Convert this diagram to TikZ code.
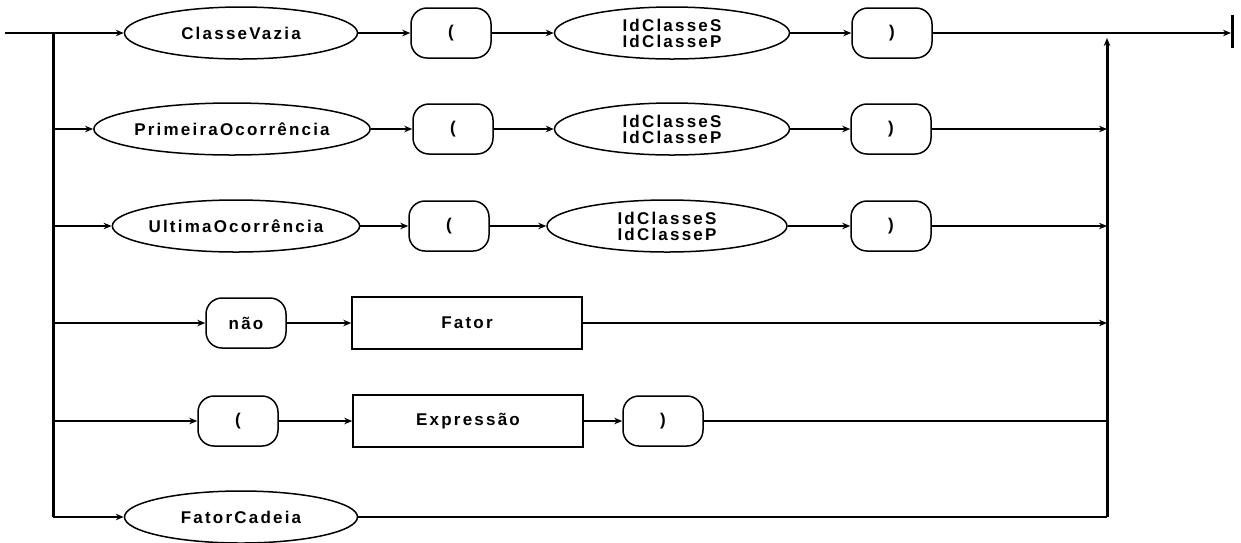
\documentclass[tikz,border=0pt]{standalone}
\usepackage{fontspec}
\newfontfamily\sdfont[LetterSpace=13]{Liberation Sans}
\usetikzlibrary{arrows.meta,positioning,calc,shapes.geometric}

\begin{document}
\begin{tikzpicture}[x=1pt,y=-1pt,
  every node/.style={font=\sdfont\bfseries\fontsize{17}{16}\selectfont,align=center,inner sep=0pt},
  term/.style={draw,rounded corners=16pt,minimum width=80pt,minimum height=50pt,line width=1.5pt},
  nterm/.style={draw,ellipse,minimum height=52pt,line width=1.5pt},
  prod/.style={draw,rectangle,minimum width=230pt,minimum height=52pt,line width=1.5pt},
  bus/.style={line width=3pt},
  arr/.style={-{Stealth[length=8pt,width=6.5pt]}},
  every path/.style={line width=2pt}]
\useasboundingbox (0,0) rectangle (1241,542);
% bus points
\coordinate (start) at (5,33);
\coordinate (l1) at (53,33);
\coordinate (l2) at (53,129);
\coordinate (l3) at (53,226);
\coordinate (l4) at (53,323);
\coordinate (l5) at (53,421);
\coordinate (l6) at (53,517);
\coordinate (r1) at (1107,38);
\coordinate (r2) at (1107,129);
\coordinate (r3) at (1107,226);
\coordinate (r4) at (1107,323);
\coordinate (r5) at (1107,421);
\coordinate (r6) at (1107,517);
\coordinate (fin) at (1231,33);
\coordinate (bt) at (1232,15);
\coordinate (bb) at (1232,48);
% row 1
\node[nterm,minimum width=233pt] (cv) at (241,33) {ClasseVazia};
\node[term] (lpa) at (451,33) {(};
\node[nterm,minimum width=235pt] (ida) at (672,33) {IdClasseS\\IdClasseP};
\node[term] (rpa) at (892,33) {)};
% row 2
\node[nterm,minimum width=209pt] (po) at (232,129) {PrimeiraOcorrência};
\node[term] (lpb) at (453,129) {(};
\node[nterm,minimum width=235pt] (idb) at (672,129) {IdClasseS\\IdClasseP};
\node[term] (rpb) at (891,129) {)};
% row 3
\node[nterm,minimum width=233pt] (uo) at (236,226) {UltimaOcorrência};
\node[term] (lpc) at (449,226) {(};
\node[nterm,minimum width=240pt] (idc) at (667,226) {IdClasseS\\IdClasseP};
\node[term] (rpc) at (891,226) {)};
% row 4
\node[term] (nao) at (246,323) {não};
\node[prod] (fa) at (467,323) {Fator};
% row 5
\node[term] (lpe) at (238,421) {(};
\node[prod] (ex) at (468,421) {Expressão};
\node[term] (rpe) at (663,421) {)};
% row 6
\node[nterm,minimum width=233pt] (fc) at (241,517) {FatorCadeia};
% connectors
\draw[arr] (start) -- (cv);
\draw[arr] (cv) -- (lpa);
\draw[arr] (lpa) -- (ida);
\draw[arr] (ida) -- (rpa);
\draw[arr] (rpa) -- (fin);
\draw[bus] (bt) -- (bb);
\draw[bus] (l1) -- (l6);
\draw[arr] (l2) -- (po);
\draw[arr] (po) -- (lpb);
\draw[arr] (lpb) -- (idb);
\draw[arr] (idb) -- (rpb);
\draw[arr] (rpb) -- (r2);
\draw[arr] (l3) -- (uo);
\draw[arr] (uo) -- (lpc);
\draw[arr] (lpc) -- (idc);
\draw[arr] (idc) -- (rpc);
\draw[arr] (rpc) -- (r3);
\draw[arr] (l4) -- (nao);
\draw[arr] (nao) -- (fa);
\draw[arr] (fa) -- (r4);
\draw[arr] (l5) -- (lpe);
\draw[arr] (lpe) -- (ex);
\draw[arr] (ex) -- (rpe);
\draw (rpe) -- (r5);
\draw[arr] (l6) -- (fc);
\draw (fc) -- (r6);
\draw[bus,arr] (r6) -- (r1);
\end{tikzpicture}
\end{document}
